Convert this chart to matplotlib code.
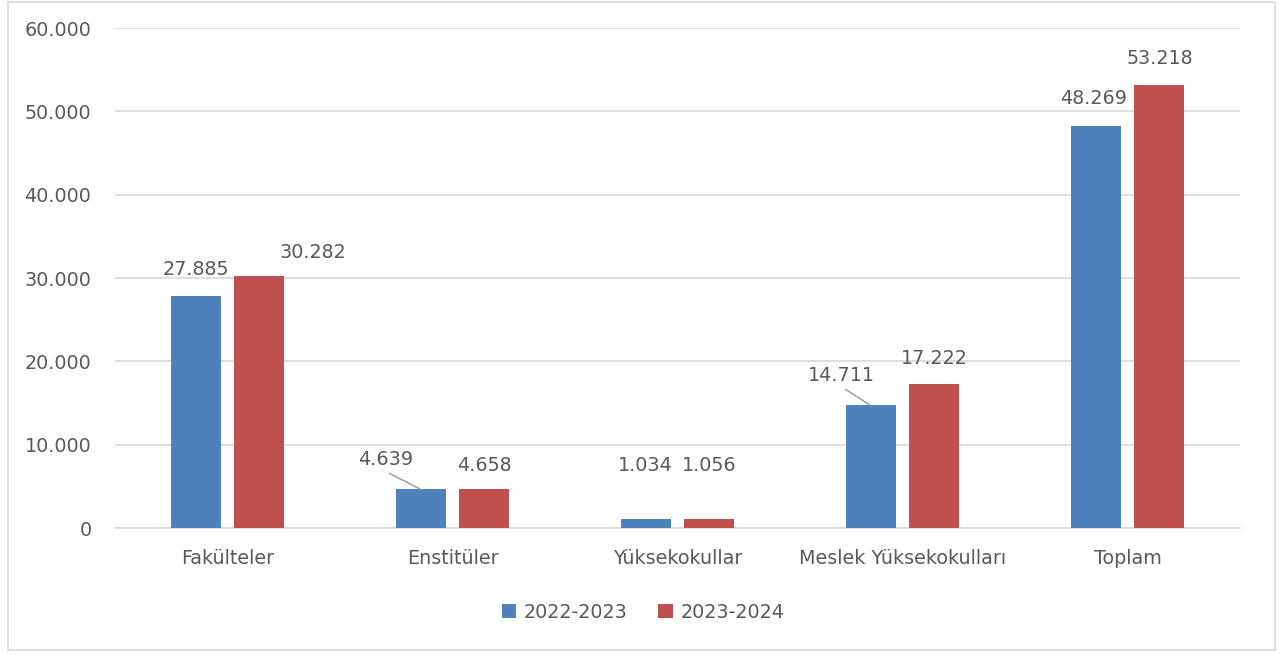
import matplotlib
matplotlib.use("Agg")
import matplotlib.pyplot as plt
import numpy as np
from matplotlib.patches import Rectangle

categories = ["Fakülteler", "Enstitüler", "Yüksekokullar", "Meslek Yüksekokulları", "Toplam"]
series_names = ["2022-2023", "2023-2024"]
values_2022 = [27885, 4639, 1034, 14711, 48269]
values_2023 = [30282, 4658, 1056, 17222, 53218]
yticks = [0, 10000, 20000, 30000, 40000, 50000, 60000]
ytick_labels = ["0", "10.000", "20.000", "30.000", "40.000", "50.000", "60.000"]

colors = ["#4F81BD", "#C0504D"]
text_color = "#595959"
grid_color = "#D9D9D9"

plt.rcParams['font.family'] = ['DejaVu Sans']

fig = plt.figure(figsize=(12.84, 6.55), dpi=100)
ax = fig.add_axes([115/1284, 1-528/655, 1125/1284, 500/655])

x = np.arange(len(categories))
w = 0.222
off = 0.142
b1 = ax.bar(x - off, values_2022, w, color=colors[0], label=series_names[0], zorder=3)
b2 = ax.bar(x + off, values_2023, w, color=colors[1], label=series_names[1], zorder=3)

ax.set_xlim(-0.5, len(categories) - 0.5)
ax.set_ylim(0, 60000)
ax.set_yticks(yticks)
ax.set_yticklabels(ytick_labels)
ax.set_xticks(x)
ax.set_xticklabels(categories)
ax.tick_params(axis='both', length=0, labelsize=13.8, colors=text_color)
ax.tick_params(axis='y', pad=17)
ax.tick_params(axis='x', pad=15)
ax.grid(axis='y', color=grid_color, linewidth=1.2, zorder=0)
for s in ["top", "right", "left"]:
    ax.spines[s].set_visible(False)
ax.spines["bottom"].set_color(grid_color)
ax.spines["bottom"].set_linewidth(1.2)

def fmt(v):
    return f"{v:,}".replace(",", ".")

# label offsets in pixels (dx, dy) relative to bar top center
offs_2022 = [(0, 26), (-35, 30), (0, 54), (-29, 30), (-2, 27)]
offs_2023 = [(53, 23), (0, 24), (0, 54), (0, 26), (0, 26)]
leader_2022 = [False, True, False, True, False]

for bars, vals, offs, leaders in [(b1, values_2022, offs_2022, leader_2022),
                                  (b2, values_2023, offs_2023, [False]*5)]:
    for rect, v, (dx, dy), ld in zip(bars, vals, offs, leaders):
        cx = rect.get_x() + rect.get_width() / 2
        ax.annotate(fmt(v), (cx, v), xytext=(dx, dy), textcoords='offset pixels',
                    ha='center', va='center', fontsize=13.8, color=text_color, zorder=5)
        if ld:
            ax.annotate("", (cx, v), xytext=(dx + 4, dy - 14), textcoords='offset pixels',
                        arrowprops=dict(arrowstyle='-', color='#A6A6A6', lw=1.2,
                                        shrinkA=0, shrinkB=0), zorder=4)

leg = fig.legend(handles=[b1, b2], labels=series_names, loc='center',
                 bbox_to_anchor=(643/1284, 1-612/655), ncol=2, frameon=False,
                 fontsize=13.8, handlelength=0.75, handleheight=0.75,
                 handletextpad=0.4, columnspacing=1.6)
for t in leg.get_texts():
    t.set_color(text_color)

fig.patches.append(Rectangle((8/1284, 1-650/655), 1267/1284, 648/655, transform=fig.transFigure,
                             fill=False, edgecolor=grid_color, linewidth=1.2))

fig.savefig("out.png", dpi=100, facecolor="white")
